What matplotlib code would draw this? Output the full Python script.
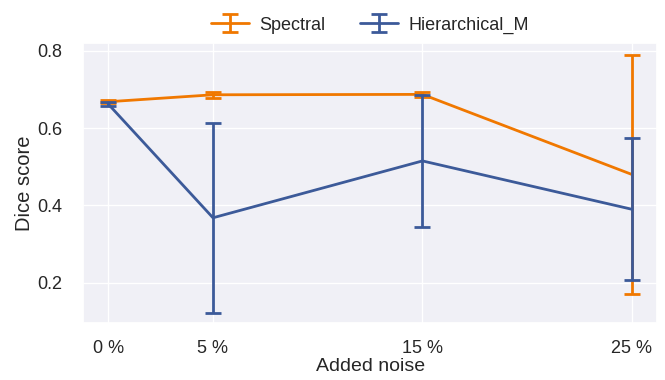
import matplotlib
matplotlib.use("Agg")
import matplotlib.pyplot as plt
import seaborn as sns

noise_levels = [0, 5, 15, 25]
noise_labels = ["0 %", "5 %", "15 %", "25 %"]

spectral_mean = [0.668, 0.686, 0.687, 0.480]
spectral_err = [0.004, 0.008, 0.006, 0.310]

hier_mean = [0.662, 0.368, 0.515, 0.390]
hier_err = [0.005, 0.245, 0.170, 0.183]

sns.set_theme(style="darkgrid", rc={"axes.facecolor": "#f0f0f6"})
plt.rcParams["font.family"] = ["Liberation Sans", "DejaVu Sans"]

fig = plt.figure(figsize=(6.65, 3.8), dpi=100)
ax = fig.add_axes([0.125, 0.15, 0.863, 0.737])

orange = "#f07800"
blue = "#3c5a99"

ax.errorbar(noise_levels, spectral_mean, yerr=spectral_err, color=orange,
            lw=2, capsize=6, capthick=2, elinewidth=2, label="Spectral", zorder=2)
ax.errorbar(noise_levels, hier_mean, yerr=hier_err, color=blue,
            lw=2, capsize=6, capthick=2, elinewidth=2, label="Hierarchical_M", zorder=3)

ax.set_xticks(noise_levels)
ax.set_xticklabels(noise_labels)
ax.set_yticks([0.2, 0.4, 0.6, 0.8])
ax.set_ylim(0.096, 0.82)
ax.set_xlim(-1.2, 26.2)
ax.tick_params(axis="y", labelsize=13, colors="#262626", pad=9)
ax.tick_params(axis="x", labelsize=13, colors="#262626", pad=6)
ax.set_xlabel("Added noise", fontsize=14, labelpad=1)
ax.set_ylabel("Dice score", fontsize=14.5, labelpad=2)

ax.legend(loc="lower center", bbox_to_anchor=(0.5, 1.0), ncol=2, frameon=False,
          fontsize=13, handlelength=2.1, handletextpad=0.6, columnspacing=1.9,
          borderaxespad=0.1)

fig.savefig("out.png", dpi=100)
